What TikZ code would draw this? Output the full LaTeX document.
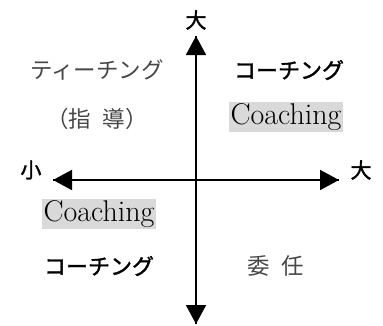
\documentclass[tikz,border=0pt]{standalone}
\usepackage{fontspec}
\newfontfamily\jpfont{Noto Sans CJK JP}
\newfontfamily\jpmed[FakeBold=1.6]{Noto Sans CJK JP}
\usetikzlibrary{arrows.meta}
\definecolor{bggray}{RGB}{217,217,217}
\begin{document}
\begin{tikzpicture}[x=1pt,y=-1pt,
  axis/.style={line width=1.8pt,-{Triangle[length=19pt,width=20pt]}},
  mincho/.style={font=\jpfont\fontsize{22.5}{24}\selectfont, text=black!72},
  gothic/.style={font=\jpmed\fontsize{22}{24}\selectfont},
  axlabel/.style={font=\jpmed\fontsize{21}{24}\selectfont},
  eng/.style={font=\fontsize{30}{34}\selectfont, fill=bggray, inner sep=1.5pt}]
\useasboundingbox (0,0) rectangle (383,325);
\coordinate (c) at (196,180);
\coordinate (top) at (196,36);
\coordinate (bot) at (196,324);
\coordinate (left) at (53,180);
\coordinate (right) at (339,180);
\draw[axis] (bot) -- (top);
\draw[axis] (top) -- (bot);
\draw[axis] (right) -- (left);
\draw[axis] (left) -- (right);
\node[axlabel] (ltop) at (196,20) {大};
\node[axlabel] (lleft) at (31,170) {小};
\node[axlabel] (lright) at (361,170) {大};
\node[mincho] (teach) at (97,70) {ティーチング};
\node[mincho] (shido) at (97,119) {（指\hspace{0.5em}導）};
\node[gothic] (coach1) at (289,70) {コーチング};
\node[eng] (en1) at (286,117) {Coaching};
\node[eng] (en2) at (99,214) {Coaching};
\node[gothic] (coach2) at (99,266) {コーチング};
\node[mincho] (inin) at (276,266) {委\hspace{0.5em}任};
\end{tikzpicture}
\end{document}
